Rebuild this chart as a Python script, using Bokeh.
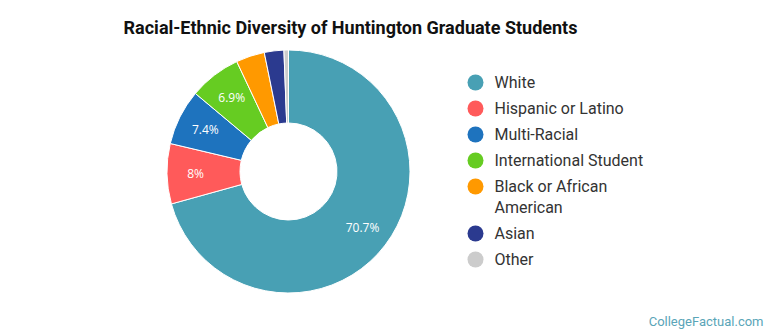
import math
from bokeh.plotting import figure
from bokeh.models import Range1d, ColumnDataSource, Label
from bokeh.core.properties import value
from bokeh.embed import file_html
from bokeh.resources import INLINE

categories = ["White", "Hispanic or Latino", "Multi-Racial", "International Student",
              "Black or African American", "Asian", "Other"]
shares = [70.7, 8.0, 7.4, 6.9, 3.8, 2.6, 0.6]
colors = ["#48A0B4", "#FF5A5A", "#1E73BE", "#66CC22", "#FF9900", "#2B3A8F", "#CCCCCC"]
# legend text lines (long names wrap onto a second line)
legend_lines = [["White"], ["Hispanic or Latino"], ["Multi-Racial"], ["International Student"],
                ["Black or African", "American"], ["Asian"], ["Other"]]

W, H = 770, 335
p = figure(width=W, height=H, output_backend="svg", toolbar_location=None,
           x_range=Range1d(0, W), y_range=Range1d(0, H), min_border=0)
p.axis.visible = False
p.grid.visible = False
p.outline_line_color = None
p.background_fill_color = "white"
p.border_fill_color = "white"

cx, cy = 288, H - 171
r_in, r_out = 48.5, 121.5

total = sum(shares)
starts, ends, lx, ly, ltxt = [], [], [], [], []
cum = 0.0
for s in shares:
    a0 = math.pi / 2 - 2 * math.pi * cum / total
    a1 = math.pi / 2 - 2 * math.pi * (cum + s) / total
    starts.append(a0)
    ends.append(a1)
    mid = (a0 + a1) / 2
    if s >= 5:
        rr = 93
        lx.append(cx + rr * math.cos(mid))
        ly.append(cy + rr * math.sin(mid))
        ltxt.append(("%g" % s) + "%")
    cum += s

src = ColumnDataSource(dict(start=starts, end=ends, color=colors))
p.annular_wedge(x=cx, y=cy, inner_radius=r_in, outer_radius=r_out,
                start_angle="start", end_angle="end", direction="clock",
                fill_color="color", line_color="white", line_width=1, source=src)

p.text(x=lx, y=ly, text=ltxt, text_color="white", text_font=value("Open Sans"),
       text_font_size="12px", text_align="center", text_baseline="middle")

# legend
row_h = 26
line_h = 21
y = 82
mark_y, txt_x, txt_y, txt = [], [], [], []
for lines in legend_lines:
    mark_y.append(H - y)
    for j, t in enumerate(lines):
        txt_y.append(H - (y + j * line_h))
        txt.append(t)
    y += row_h + (len(lines) - 1) * line_h
p.scatter(x=[475] * len(colors), y=mark_y, size=16, marker="circle",
          fill_color=colors, line_color=None)
p.text(x=[494] * len(txt), y=txt_y, text=txt,
       text_color="#333333", text_font=value("Roboto"), text_font_size="16px",
       text_align="left", text_baseline="middle")

p.add_layout(Label(x=350, y=H - 27, text="Racial-Ethnic Diversity of Huntington Graduate Students",
                   text_font="Roboto", text_font_style="bold", text_font_size="18px",
                   text_color="#111111", text_align="center", text_baseline="middle"))
p.add_layout(Label(x=763, y=H - 321, text="CollegeFactual.com", text_font="Roboto",
                   text_font_size="13px", text_color="#5AA5B8", text_align="right",
                   text_baseline="middle"))

open("out.html", "w").write(file_html(p, INLINE))
